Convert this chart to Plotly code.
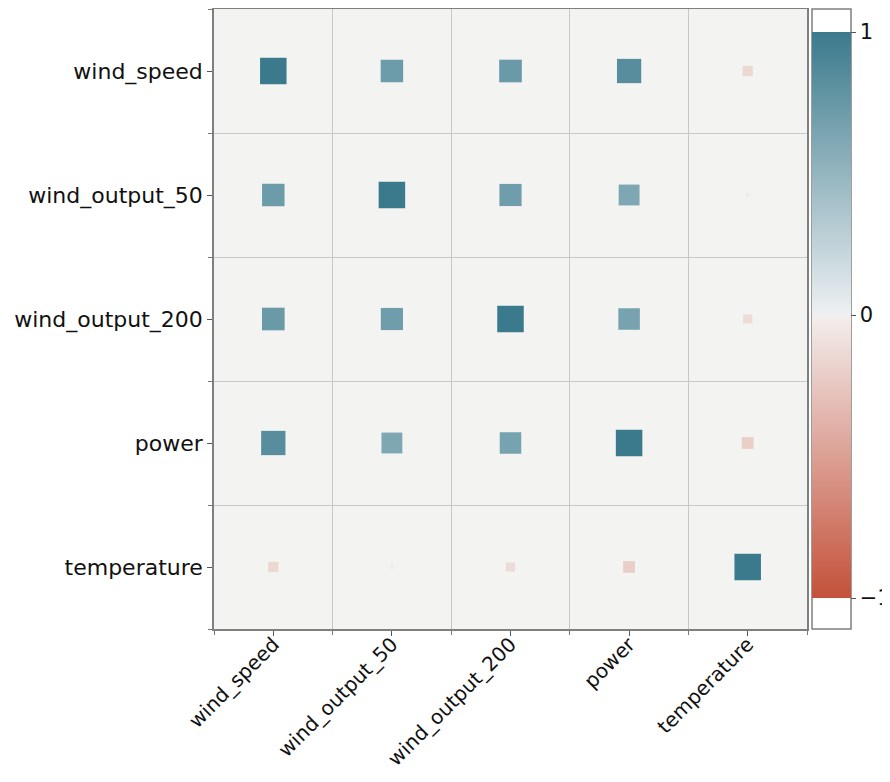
import numpy as np
import plotly.graph_objects as go

# ---- data ----
variables = ["wind_speed", "wind_output_50", "wind_output_200", "power", "temperature"]
row_wind_speed      = [1.00, 0.72, 0.73, 0.84, -0.15]
row_wind_output_50  = [0.72, 1.00, 0.70, 0.62, -0.02]
row_wind_output_200 = [0.73, 0.70, 1.00, 0.66, -0.12]
row_power           = [0.84, 0.62, 0.66, 1.00, -0.20]
row_temperature     = [-0.15, -0.02, -0.12, -0.20, 1.00]
corr_rows = [row_wind_speed, row_wind_output_50, row_wind_output_200, row_power, row_temperature]
cbar_ticks = [-1, 0, 1]
cbar_ticktext = ["\u22121", "0", "1"]

# ---- build long form ----
xs, ys, vals = [], [], []
for i, row in enumerate(corr_rows):
    for j, v in enumerate(row):
        xs.append(j)
        ys.append(i)
        vals.append(v)
vals = np.array(vals)
sizes = 26.5 * np.sqrt(np.abs(vals))

colorscale = [
    [0.0, "#c4513a"],
    [0.499, "#f3eeed"],
    [0.501, "#edf0f2"],
    [1.0, "#3a7a8c"],
]

# page offset of the figure inside the browser (body margin)
OFF = 7
W, H = 890, 766
L, T = 213 - OFF, 8 - OFF
pw, ph = 593, 620
R = W - L - pw
B = H - T - ph
cb_x0 = (811 - OFF - L) / pw
cb_x1 = (850 - OFF - L) / pw
cb_top, cb_bot = 31 - OFF, 597 - OFF

fig = go.Figure()
fig.add_trace(go.Scatter(
    x=xs, y=ys, mode="markers",
    marker=dict(
        symbol="square", size=sizes, color=vals, opacity=1,
        colorscale=colorscale, cmin=-1, cmax=1,
        line=dict(width=0),
        colorbar=dict(
            x=cb_x0, xanchor="left", xpad=0, ypad=0,
            y=(T + ph - (cb_top + cb_bot) / 2) / ph, yanchor="middle",
            len=(cb_bot - cb_top) / ph, lenmode="fraction",
            thickness=(850 - 811), thicknessmode="pixels",
            outlinewidth=0,
            tickvals=cbar_ticks, ticktext=cbar_ticktext,
            ticks="outside", ticklen=5, tickcolor="#555555",
            tickfont=dict(family="DejaVu Sans", size=21, color="#111111"),
        ),
    ),
    hoverinfo="skip",
    showlegend=False,
))

axis_common = dict(
    showline=True, linecolor="#7f7f7f", linewidth=1.5, mirror=True,
    ticks="outside", ticklen=5, tickcolor="#555555",
    showgrid=False, zeroline=False,
    minor=dict(tick0=0.5, dtick=1, showgrid=True, gridcolor="#c8c8c8",
               gridwidth=1, ticks="outside", ticklen=4, tickcolor="#777777"),
    fixedrange=True,
)

fig.update_layout(
    width=W, height=H,
    margin=dict(l=L, r=R, t=T, b=B, autoexpand=False),
    paper_bgcolor="white",
    plot_bgcolor="#f3f3f1",
    xaxis=dict(range=[-0.5, 4.5], tickmode="array", tickvals=list(range(5)),
               ticktext=variables, tickangle=-45, automargin=False,
               ticklabelstandoff=-11,
               tickfont=dict(family="DejaVu Sans", size=20, color="#111111"),
               **axis_common),
    yaxis=dict(range=[4.5, -0.5], tickmode="array", tickvals=list(range(5)),
               ticktext=variables, automargin=False,
               tickfont=dict(family="DejaVu Sans", size=22, color="#111111"),
               **axis_common),
    shapes=[dict(type="rect", xref="paper", yref="paper",
                 x0=cb_x0, x1=cb_x1, y0=0, y1=1,
                 line=dict(color="#7f7f7f", width=1.5), fillcolor="rgba(0,0,0,0)",
                 layer="above")],
)

fig.write_html("out.html")
